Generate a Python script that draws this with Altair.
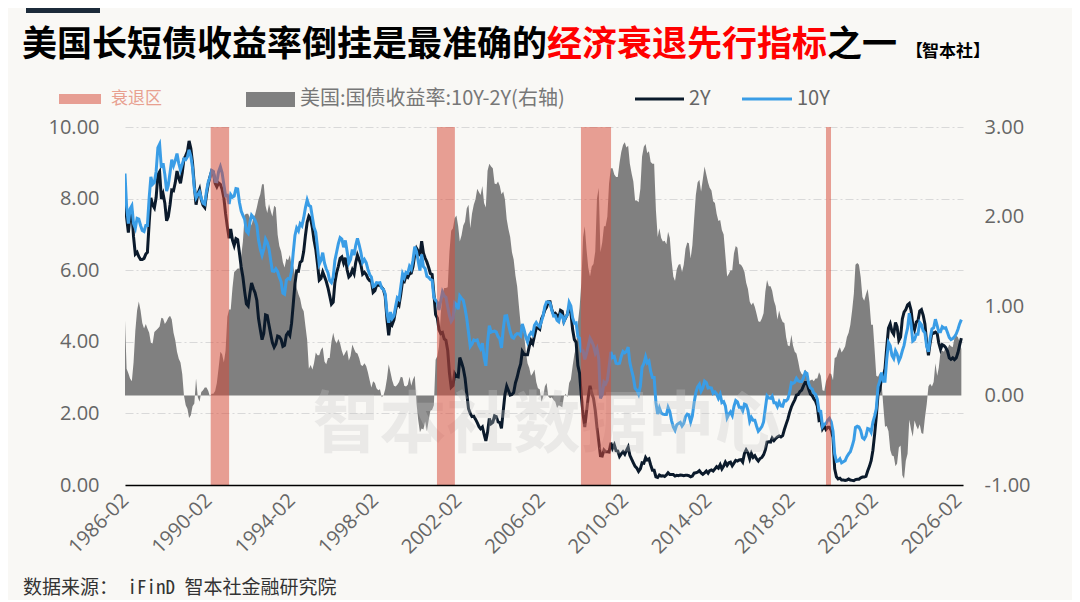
import altair as alt
import pandas as pd

# ---- data (monthly, starting 1986-02) ----
ten_year = [
    8.70, 7.78, 7.30, 7.71, 7.80, 7.30, 7.17, 7.45, 7.43, 7.25, 7.11,
    7.08, 7.25, 7.25, 8.02, 8.61, 8.40, 8.45, 8.76, 9.42, 9.52, 8.86, 8.99,
    8.67, 8.21, 8.37, 8.72, 9.09, 8.92, 9.06, 9.26, 8.98, 8.80, 8.96, 9.11,
    9.09, 9.17, 9.36, 9.18, 8.86, 8.28, 8.02, 8.11, 8.19, 8.01, 7.87, 7.84,
    8.21, 8.47, 8.59, 8.79, 8.76, 8.48, 8.47, 8.75, 8.89, 8.72, 8.39, 8.08,
    8.09, 7.85, 8.11, 8.04, 8.07, 8.28, 8.27, 7.90, 7.65, 7.53, 7.42, 7.09,
    7.03, 7.34, 7.54, 7.48, 7.39, 7.26, 6.84, 6.59, 6.42, 6.59, 6.87, 6.77,
    6.60, 6.26, 5.98, 5.97, 6.04, 5.96, 5.81, 5.68, 5.36, 5.33, 5.72, 5.77,
    5.75, 5.97, 6.48, 6.97, 7.18, 7.10, 7.30, 7.24, 7.46, 7.74, 7.96, 7.81,
    7.78, 7.47, 7.20, 7.06, 6.63, 6.17, 6.28, 6.49, 6.20, 6.04, 5.93, 5.71,
    5.65, 5.81, 6.27, 6.51, 6.74, 6.91, 6.87, 6.64, 6.83, 6.53, 6.20, 6.30,
    6.58, 6.42, 6.69, 6.89, 6.71, 6.49, 6.22, 6.30, 6.21, 6.03, 5.88, 5.81,
    5.54, 5.57, 5.65, 5.64, 5.65, 5.50, 5.46, 5.34, 4.81, 4.53, 4.83, 4.65,
    4.72, 5.00, 5.23, 5.18, 5.54, 5.90, 5.79, 5.94, 5.92, 6.11, 6.03, 6.28,
    6.66, 6.52, 6.26, 5.99, 6.44, 6.10, 6.05, 5.83, 5.80, 5.74, 5.72, 5.24,
    5.16, 5.10, 4.89, 5.14, 5.39, 5.28, 5.24, 4.97, 4.73, 4.57, 4.65, 5.09,
    5.04, 4.91, 5.28, 5.21, 5.16, 4.93, 4.65, 4.26, 3.87, 3.94, 4.05, 4.03,
    4.05, 3.90, 3.81, 3.96, 3.57, 3.33, 3.98, 4.45, 4.27, 4.29, 4.30, 4.27,
    4.15, 4.08, 3.83, 4.35, 4.72, 4.73, 4.50, 4.28, 4.13, 4.10, 4.19, 4.23,
    4.22, 4.17, 4.50, 4.34, 4.14, 4.00, 4.18, 4.26, 4.20, 4.46, 4.54, 4.47,
    4.42, 4.57, 4.72, 4.99, 5.11, 5.11, 5.09, 4.88, 4.72, 4.73, 4.60, 4.56,
    4.76, 4.72, 4.56, 4.69, 4.75, 5.10, 5.00, 4.67, 4.52, 4.53, 4.15, 4.10,
    3.74, 3.74, 3.51, 3.68, 3.88, 4.10, 4.01, 3.89, 3.69, 3.81, 3.53, 2.42,
    2.52, 2.87, 2.82, 2.93, 3.29, 3.72, 3.56, 3.59, 3.40, 3.39, 3.40, 3.59,
    3.73, 3.69, 3.73, 3.85, 3.42, 3.20, 3.01, 2.70, 2.65, 2.54, 2.76, 3.29,
    3.39, 3.58, 3.41, 3.46, 3.17, 3.00, 3.00, 2.30, 1.98, 2.15, 2.01, 1.98,
    1.97, 1.97, 2.17, 2.05, 1.80, 1.62, 1.53, 1.68, 1.72, 1.75, 1.65, 1.72,
    1.91, 1.98, 1.96, 1.76, 1.93, 2.30, 2.58, 2.74, 2.81, 2.62, 2.72, 2.90,
    2.86, 2.71, 2.72, 2.71, 2.56, 2.60, 2.54, 2.42, 2.53, 2.30, 2.33, 2.21,
    1.88, 1.98, 2.04, 1.94, 2.20, 2.36, 2.32, 2.17, 2.17, 2.07, 2.26, 2.24,
    2.09, 1.78, 1.89, 1.81, 1.81, 1.64, 1.50, 1.56, 1.63, 1.76, 2.14, 2.49,
    2.43, 2.42, 2.48, 2.30, 2.30, 2.19, 2.32, 2.21, 2.20, 2.36, 2.35, 2.40,
    2.58, 2.86, 2.84, 2.87, 2.98, 2.91, 2.89, 2.89, 3.00, 3.15, 3.12, 2.83,
    2.71, 2.68, 2.57, 2.53, 2.40, 2.07, 2.06, 1.63, 1.70, 1.71, 1.81, 1.86,
    1.76, 1.50, 0.87, 0.66, 0.67, 0.73, 0.62, 0.65, 0.68, 0.79, 0.87, 0.93,
    1.08, 1.26, 1.61, 1.64, 1.62, 1.52, 1.32, 1.28, 1.37, 1.58, 1.56, 1.47,
    1.76, 1.93, 2.13, 2.75, 2.90, 3.14, 2.90, 2.90, 3.52, 3.98, 3.89, 3.62,
    3.53, 3.75, 3.66, 3.46, 3.57, 3.75, 3.90, 4.17, 4.38, 4.80, 4.50, 4.02,
    4.06, 4.21, 4.21, 4.54, 4.48, 4.31, 4.25, 3.87, 3.72, 4.10, 4.36, 4.39,
    4.63, 4.45, 4.28, 4.28, 4.42, 4.38, 4.39, 4.26, 4.12, 4.06, 4.09, 4.14,
    4.22, 4.35, 4.50, 4.62,
]

two_year = [
    7.86, 7.48, 7.05, 7.52, 7.64, 6.93, 6.45, 6.50, 6.38, 6.30, 6.30,
    6.33, 6.45, 6.50, 7.32, 8.02, 7.82, 7.74, 8.03, 8.67, 8.75, 7.99, 8.13,
    7.87, 7.38, 7.50, 7.83, 8.24, 8.22, 8.44, 8.77, 8.57, 8.43, 8.72, 9.11,
    9.20, 9.32, 9.61, 9.40, 8.98, 8.37, 7.83, 8.13, 8.26, 7.97, 7.81, 7.75,
    8.12, 8.42, 8.60, 8.77, 8.74, 8.43, 8.33, 8.44, 8.40, 8.26, 8.02, 7.58,
    7.21, 6.89, 7.15, 6.84, 6.69, 6.88, 6.85, 6.48, 6.09, 5.81, 5.40, 5.06,
    5.00, 5.36, 5.64, 5.49, 5.37, 5.16, 4.65, 4.34, 4.06, 4.23, 4.75, 4.73,
    4.46, 4.20, 3.98, 3.85, 3.94, 4.16, 4.14, 4.07, 3.87, 3.90, 4.19, 4.26,
    4.18, 4.52, 5.03, 5.62, 5.98, 5.97, 6.22, 6.26, 6.52, 6.96, 7.34, 7.51,
    7.44, 7.18, 6.84, 6.58, 6.18, 5.72, 5.77, 5.95, 5.82, 5.69, 5.51, 5.29,
    5.05, 5.11, 5.65, 5.93, 6.11, 6.33, 6.37, 6.20, 6.35, 6.02, 5.81, 5.86,
    6.01, 5.90, 6.21, 6.42, 6.29, 6.15, 5.89, 5.94, 5.88, 5.77, 5.71, 5.72,
    5.38, 5.43, 5.57, 5.58, 5.58, 5.52, 5.46, 5.27, 4.62, 4.18, 4.57, 4.48,
    4.61, 4.90, 5.11, 5.03, 5.33, 5.70, 5.68, 5.84, 5.80, 5.90, 5.92, 6.10,
    6.44, 6.61, 6.53, 6.40, 6.81, 6.48, 6.34, 6.23, 6.08, 5.91, 5.88, 5.35,
    4.76, 4.66, 4.34, 4.23, 4.26, 4.08, 4.04, 3.76, 3.12, 2.73, 2.78, 3.11,
    3.03, 3.02, 3.56, 3.42, 3.26, 2.99, 2.56, 2.13, 2.00, 1.91, 1.92, 1.84,
    1.74, 1.63, 1.57, 1.62, 1.42, 1.23, 1.47, 1.86, 1.71, 1.75, 1.93, 1.91,
    1.76, 1.74, 1.58, 2.07, 2.53, 2.76, 2.64, 2.51, 2.53, 2.58, 2.85, 3.01,
    3.22, 3.38, 3.73, 3.65, 3.64, 3.64, 3.87, 4.04, 3.95, 4.17, 4.39, 4.39,
    4.35, 4.64, 4.74, 4.89, 4.97, 5.12, 5.12, 4.90, 4.77, 4.80, 4.74, 4.67,
    4.88, 4.85, 4.57, 4.67, 4.77, 4.96, 4.82, 4.34, 4.06, 3.99, 3.34, 3.12,
    2.48, 1.97, 1.62, 2.05, 2.45, 2.77, 2.57, 2.42, 2.08, 1.61, 1.21, 0.82,
    0.81, 0.98, 0.93, 0.93, 0.92, 1.18, 1.02, 1.12, 0.96, 0.95, 0.80, 0.87,
    0.93, 0.86, 0.96, 1.06, 0.83, 0.72, 0.62, 0.52, 0.47, 0.38, 0.45, 0.62,
    0.61, 0.77, 0.70, 0.73, 0.56, 0.41, 0.41, 0.23, 0.21, 0.28, 0.25, 0.26,
    0.24, 0.28, 0.34, 0.29, 0.29, 0.29, 0.25, 0.27, 0.26, 0.28, 0.27, 0.26,
    0.27, 0.27, 0.26, 0.23, 0.25, 0.33, 0.34, 0.36, 0.40, 0.34, 0.30, 0.34,
    0.39, 0.33, 0.40, 0.42, 0.39, 0.45, 0.51, 0.47, 0.57, 0.45, 0.53, 0.64,
    0.55, 0.62, 0.64, 0.54, 0.61, 0.69, 0.67, 0.70, 0.71, 0.64, 0.88, 0.98,
    0.90, 0.73, 0.88, 0.77, 0.82, 0.73, 0.67, 0.74, 0.77, 0.84, 0.98, 1.20,
    1.21, 1.20, 1.31, 1.24, 1.30, 1.34, 1.37, 1.34, 1.38, 1.55, 1.70, 1.84,
    2.03, 2.18, 2.28, 2.38, 2.51, 2.53, 2.61, 2.65, 2.77, 2.86, 2.86, 2.68,
    2.54, 2.50, 2.41, 2.34, 2.21, 1.81, 1.84, 1.57, 1.65, 1.55, 1.61, 1.61,
    1.52, 1.33, 0.45, 0.23, 0.17, 0.19, 0.14, 0.14, 0.13, 0.14, 0.17, 0.14,
    0.13, 0.12, 0.15, 0.16, 0.16, 0.20, 0.22, 0.22, 0.24, 0.39, 0.52, 0.68,
    0.97, 1.43, 1.91, 2.54, 2.65, 2.99, 3.01, 3.25, 3.86, 4.38, 4.50, 4.29,
    4.21, 4.54, 4.42, 4.04, 4.13, 4.64, 4.83, 4.90, 5.03, 5.07, 4.88, 4.48,
    4.34, 4.55, 4.59, 4.86, 4.90, 4.74, 4.50, 3.97, 3.62, 3.97, 4.26, 4.24,
    4.27, 4.23, 3.97, 3.79, 3.92, 3.89, 3.84, 3.74, 3.55, 3.51, 3.55, 3.50,
    3.55, 3.70, 3.90, 4.10,
]

recession_start = ["1990-03-15", "2001-01-25", "2007-12-25", "2019-10-01"]
recession_end = ["1991-02-01", "2001-12-05", "2009-06-05", "2019-12-28"]

tick_years = list(range(1986, 2027, 4))
left_ticks = [0, 2, 4, 6, 8, 10]
right_ticks = [-1, 0, 1, 2, 3]

# ---- tables ----
dates = pd.date_range("1986-02-01", periods=len(ten_year), freq="MS").strftime("%Y-%m-%dT00:00:00")
df = pd.DataFrame({"date": list(dates), "y10": ten_year, "y2": two_year})
df["spread"] = (df["y10"] - df["y2"]).round(2)

rec_df = pd.DataFrame({
    "start": [s + "T00:00:00" for s in recession_start],
    "end": [e + "T00:00:00" for e in recession_end],
})
one = pd.DataFrame({"k": [0]})

# ---- styles ----
NAVY = "#0b1a2b"
BLUE = "#3a9de6"
GRAY = "#808080"
REC = "#d64a3a"
REC_OP = 0.52
CJK = "Noto Sans CJK SC"
NUM = "Open Sans"
FMT = "datum.value < 0 ? '-' + format(-datum.value, '.2f') : format(datum.value, '.2f')"

x_enc = alt.X(
    "date:T",
    scale=alt.Scale(domain=[alt.DateTime(year=1986, month=2, date=1),
                            alt.DateTime(year=2026, month=4, date=30)]),
    axis=alt.Axis(
        values=[alt.DateTime(year=y, month=2, date=1) for y in tick_years],
        format="%Y-%m", labelAngle=-45, labelAlign="right", labelBaseline="middle",
        labelFontSize=20, labelFont=NUM, labelColor="#666666", labelPadding=12,
        ticks=False, grid=False, domainColor="#000000", domainWidth=1.5,
        title=None, zindex=1, labelOverlap=False,
    ),
)

area = alt.Chart(df).mark_area(color=GRAY, clip=True).encode(
    x=x_enc,
    y=alt.Y("spread:Q", scale=alt.Scale(domain=[-1, 3]),
            axis=alt.Axis(orient="right", values=right_ticks, labelExpr=FMT, grid=False,
                          domain=False, ticks=False, labelFontSize=20, labelFont=NUM,
                          labelColor="#666666", labelPadding=21, title=None)),
)

line2 = alt.Chart(df).mark_line(color=NAVY, strokeWidth=3, clip=True).encode(
    x=alt.X("date:T"),
    y=alt.Y("y2:Q", scale=alt.Scale(domain=[0, 10]),
            axis=alt.Axis(orient="left", values=left_ticks, labelExpr=FMT, grid=True,
                          gridColor="#d9d9d9", gridDash=[8, 3, 2, 3], gridWidth=1,
                          domain=False, ticks=False, labelFontSize=20, labelFont=NUM,
                          labelColor="#666666", labelPadding=26, title=None)),
)
line10 = alt.Chart(df).mark_line(color=BLUE, strokeWidth=3, clip=True).encode(
    x=alt.X("date:T"),
    y=alt.Y("y10:Q"),
)
lines = alt.layer(line2, line10)

watermark = alt.Chart(one).mark_text(
    font=CJK, fontWeight="bold", fontSize=67, color="#c8c8c8", opacity=0.3,
    align="center", baseline="middle",
).encode(x=alt.value(422), y=alt.value(300), text=alt.value("智本社数据中心"))

rects = alt.Chart(rec_df).mark_rect(color=REC, opacity=REC_OP).encode(
    x=alt.X("start:T"), x2="end:T"
)

def txt(s, x, y, size, color, weight="normal", font=CJK, align="left"):
    return alt.Chart(one).mark_text(
        font=font, fontSize=size, fontWeight=weight, color=color,
        align=align, baseline="middle",
    ).encode(x=alt.value(x), y=alt.value(y), text=alt.value(s))

def box(x, x2, y, y2, color, opacity=1.0):
    return alt.Chart(one).mark_rect(color=color, opacity=opacity).encode(
        x=alt.value(x), x2=alt.value(x2), y=alt.value(y), y2=alt.value(y2)
    )

def seg(x, x2, y, color):
    return alt.Chart(one).mark_rule(color=color, strokeWidth=3).encode(
        x=alt.value(x), x2=alt.value(x2), y=alt.value(y)
    )

deco = [
    box(-99, -25, -119, -114, "#1c2b3a"),
    txt("美国长短债收益率倒挂是最准确的", -103, -82, 35, "#000000", "bold"),
    txt("经济衰退先行指标", 422, -82, 35, "#ff0000", "bold"),
    txt("之一", 702, -82, 35, "#000000", "bold"),
    txt("【", 781, -75, 17, "#000000", "bold"),
    txt("智本社", 797, -75, 17, "#000000", "bold"),
    txt("】", 848, -75, 17, "#000000", "bold"),
    box(-66, -24, -33, -23, REC, REC_OP),
    txt("衰退区", -14, -28, 17, "#e8a090"),
    box(121, 170, -35, -20, GRAY),
    txt("美国:国债收益率:10Y-2Y(右轴)", 175, -28, 20, "#777777"),
    seg(510, 559, -28, NAVY),
    txt("2Y", 564, -28, 20, "#666666"),
    seg(617, 667, -28, BLUE),
    txt("10Y", 672, -28, 20, "#666666"),
    txt("数据来源： iFinD  智本社金融研究院", -102, 461, 19, "#333333",
        font="Noto Sans Mono CJK SC, Noto Sans CJK SC"),
]

chart = alt.layer(area, lines, watermark, rects, *deco).resolve_scale(
    y="independent"
).properties(
    width=838, height=358,
    autosize=alt.AutoSizeParams(type="none"),
    padding={"left": 117, "top": 119, "right": 109, "bottom": 115},
    background="#f9f8f5",
).configure_view(stroke=None)

chart.save("out.html", embed_options={"renderer": "svg", "actions": False})
